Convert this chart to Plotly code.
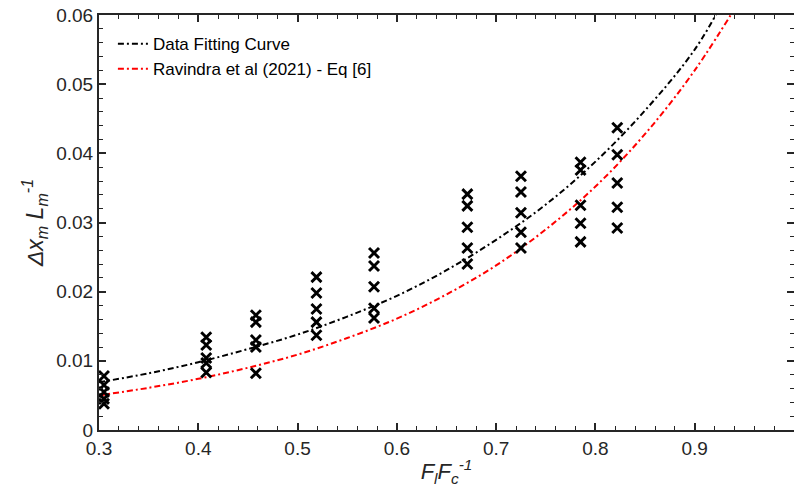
import plotly.graph_objects as go

# measured points: F_l / F_c columns and their Δx_m / L_m values
x_cols = [0.305, 0.408, 0.458, 0.519, 0.577, 0.671, 0.725, 0.785, 0.822]
y_cols = [
    [0.0078, 0.0065, 0.0055, 0.0045, 0.0038],
    [0.0134, 0.0123, 0.0104, 0.0097, 0.0083],
    [0.0166, 0.0156, 0.0130, 0.0120, 0.0082],
    [0.0221, 0.0198, 0.0175, 0.0156, 0.0137],
    [0.0256, 0.0237, 0.0207, 0.0176, 0.0162],
    [0.0341, 0.0324, 0.0293, 0.0263, 0.0240],
    [0.0367, 0.0344, 0.0314, 0.0286, 0.0263],
    [0.0387, 0.0376, 0.0325, 0.0299, 0.0272],
    [0.0437, 0.0398, 0.0357, 0.0322, 0.0292],
]

# curves
fit_x = [0.30, 0.35, 0.40, 0.45, 0.50, 0.55, 0.60, 0.65, 0.70, 0.75, 0.80, 0.85, 0.90, 0.93]
fit_y = [0.0069, 0.0082, 0.0098, 0.0117, 0.0138, 0.0164, 0.0194, 0.0231, 0.0275, 0.0326, 0.0388, 0.0462, 0.0550, 0.0623]
rav_x = [0.30, 0.35, 0.40, 0.45, 0.50, 0.55, 0.60, 0.65, 0.70, 0.75, 0.80, 0.85, 0.90, 0.95]
rav_y = [0.0050, 0.0061, 0.0074, 0.0090, 0.0109, 0.0133, 0.0161, 0.0196, 0.0238, 0.0290, 0.0352, 0.0428, 0.0520, 0.0632]

x_ticks = [0.3, 0.4, 0.5, 0.6, 0.7, 0.8, 0.9]
y_ticks = [0, 0.01, 0.02, 0.03, 0.04, 0.05, 0.06]

pts_x = [x for x, ys in zip(x_cols, y_cols) for _ in ys]
pts_y = [y for ys in y_cols for y in ys]

ax_col = "#262626"
fnt = "Liberation Sans, Arial"

fig = go.Figure()
fig.add_trace(go.Scatter(x=fit_x, y=fit_y, mode="lines", name="Data Fitting Curve",
                         line=dict(color="black", width=2, dash="6px,3px,2px,3px", shape="spline")))
fig.add_trace(go.Scatter(x=rav_x, y=rav_y, mode="lines", name="Ravindra et al (2021) - Eq [6]",
                         line=dict(color="#ff0000", width=2, dash="6px,3px,2px,3px", shape="spline")))
fig.add_trace(go.Scatter(x=pts_x, y=pts_y, mode="markers", showlegend=False,
                         marker=dict(symbol="x-thin", size=10, color="black",
                                     line=dict(color="black", width=2.9)),
                         cliponaxis=False))

fig.update_xaxes(range=[0.3, 1.0], tickvals=x_ticks, ticktext=["0.3", "0.4", "0.5", "0.6", "0.7", "0.8", "0.9"],
                 ticks="inside", ticklen=7, tickwidth=1.5, tickcolor=ax_col,
                 minor=dict(dtick=0.02, tick0=0.3, ticks="inside", ticklen=4, tickcolor=ax_col, tickwidth=1.2),
                 showline=True, linecolor=ax_col, linewidth=2, mirror="ticks",
                 showgrid=False, zeroline=False, automargin=False,
                 tickfont=dict(size=19, color=ax_col, family=fnt),
                 title=dict(text="<i>F<sub>l</sub>F<sub>c</sub><sup>-1</sup></i>", standoff=6,
                            font=dict(size=22, color=ax_col, family=fnt)))
fig.update_yaxes(range=[0, 0.06], tickvals=y_ticks, ticktext=["0", "0.01", "0.02", "0.03", "0.04", "0.05", "0.06"],
                 ticks="inside", ticklen=7, tickwidth=1.5, tickcolor=ax_col,
                 minor=dict(dtick=0.002, tick0=0, ticks="inside", ticklen=4, tickcolor=ax_col, tickwidth=1.2),
                 showline=True, linecolor=ax_col, linewidth=2, mirror="ticks",
                 showgrid=False, zeroline=False, automargin=False,
                 tickfont=dict(size=19, color=ax_col, family=fnt),
                 title=dict(text="<i>Δx<sub>m</sub> L<sub>m</sub><sup>-1</sup></i>", standoff=6,
                            font=dict(size=23, color=ax_col, family=fnt)))

fig.update_layout(width=794, height=499, margin=dict(l=99, r=0, t=15, b=69),
                  plot_bgcolor="white", paper_bgcolor="white",
                  legend=dict(x=0.02, y=0.973, xanchor="left", yanchor="top", bgcolor="rgba(0,0,0,0)",
                              font=dict(size=17, color="black", family=fnt),
                              itemwidth=30, tracegroupgap=0))

# drop the browser's default body margin so the figure sits at the page corner
fig.write_html("out.html", config={"displayModeBar": False},
               post_script="document.body.style.margin='0';document.body.style.overflow='hidden';")
